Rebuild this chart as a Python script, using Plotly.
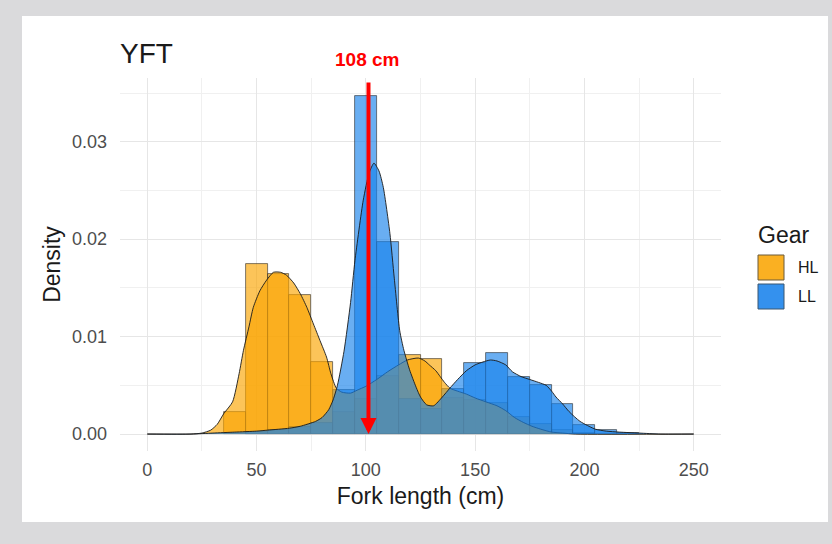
import plotly.graph_objects as go

# ---------------- data ----------------
bin_width = 10
hl_bin_centers = [40, 50, 60, 70, 80, 90, 100, 110, 120, 130, 140, 150, 160, 170, 180, 190, 200]
hl_bin_density = [0.0023, 0.0175, 0.0164, 0.0143, 0.0074, 0.0023, 0.0036, 0.0060, 0.0081, 0.0077,
                  0.0037, 0.0035, 0.0032, 0.0018, 0.0010, 0.0004, 0.0001]

ll_bin_centers = [50, 60, 70, 80, 90, 100, 110, 120, 130, 140, 150, 160, 170, 180, 190, 200, 210, 220]
ll_bin_density = [0.0002, 0.0004, 0.0007, 0.0011, 0.0045, 0.0347, 0.0197, 0.0036, 0.0026, 0.0046,
                  0.0073, 0.0083, 0.0059, 0.0050, 0.0031, 0.0009, 0.0004, 0.0001]

hl_kde_x = [0, 20, 25, 29, 32, 35, 39, 42, 44, 46.5, 48.5, 51.5, 54.6, 57.7, 61, 63.7, 67, 70, 73,
            76, 79, 82, 84, 86.5, 89, 93, 96, 100, 105, 110, 115, 119, 124, 127, 129, 132, 134,
            136, 138.5, 142, 146, 150, 155, 160, 164, 168, 172, 176, 180, 185, 190, 196, 250]
hl_kde_y = [0, 0, 0.0001, 0.0004, 0.0010, 0.0021, 0.0033, 0.0062, 0.0086, 0.0110, 0.0130, 0.0147,
            0.0158, 0.0166, 0.0166, 0.0163, 0.0155, 0.0144, 0.0130, 0.0113, 0.0096, 0.0079, 0.0062,
            0.0047, 0.0043, 0.0042, 0.0045, 0.0049, 0.0056, 0.0064, 0.0071, 0.0076, 0.0078, 0.0075,
            0.0071, 0.0065, 0.0059, 0.0053, 0.0047, 0.0044, 0.0041, 0.0037, 0.0033, 0.0029, 0.0024,
            0.0017, 0.0012, 0.0008, 0.0005, 0.0002, 0.0001, 0, 0]

ll_kde_x = [0, 20, 30, 40, 50, 55, 65, 70, 77, 80, 83, 85, 87, 90, 93, 95, 98.8, 101.5, 103.7, 106,
            108, 111, 113, 115.5, 117.4, 120, 123, 125, 127.8, 131, 135, 138.4, 142, 146, 150, 153.6,
            157, 160, 164, 167, 171, 175, 179, 182.5, 185, 187, 190, 193, 198, 205, 210, 216, 225,
            235, 250]
ll_kde_y = [0, 0, 0.0001, 0.0002, 0.0003, 0.0004, 0.0006, 0.0008, 0.0013, 0.0017, 0.0025, 0.0035,
            0.0050, 0.0085, 0.0135, 0.0178, 0.0240, 0.0268, 0.0278, 0.0270, 0.0253, 0.0206, 0.0160,
            0.0106, 0.0086, 0.0066, 0.0048, 0.0038, 0.0030, 0.0029, 0.0038, 0.0047, 0.0056, 0.0065,
            0.0071, 0.0074, 0.0076, 0.0075, 0.0071, 0.0064, 0.0059, 0.0056, 0.0053, 0.0050, 0.0044,
            0.0038, 0.0031, 0.0023, 0.0013, 0.0005, 0.0003, 0.0002, 0.0001, 0, 0]

gear_names = ["HL", "LL"]
marker_value = 101.2          # position of the red marker line (cm)
marker_label = "108 cm"
x_ticks = [0, 50, 100, 150, 200, 250]
y_ticks = [0.00, 0.01, 0.02, 0.03]
y_tick_text = ["0.00", "0.01", "0.02", "0.03"]

# ---------------- styling ----------------
ORANGE = "rgba(250,165,0,0.65)"
BLUE = "rgba(25,130,235,0.65)"
ORANGE_KEY = "rgb(250,176,34)"
BLUE_KEY = "rgb(52,145,238)"
OUTLINE = "rgba(40,40,40,0.75)"
FONT = "Liberation Sans, Arial, sans-serif"

W, H = 832, 544
L, R, T, B = 120, 111, 78, 93
pw, ph = W - L - R, H - T - B


def px_x(p):
    return (p - L) / pw


def px_y(p):
    return (H - B - p) / ph


fig = go.Figure()

# histograms (HL first, LL on top)
for name, cx, hy, col in [(gear_names[0], hl_bin_centers, hl_bin_density, ORANGE),
                          (gear_names[1], ll_bin_centers, ll_bin_density, BLUE)]:
    fig.add_trace(go.Bar(x=cx, y=hy, width=bin_width, name=name, showlegend=False,
                         marker=dict(color=col, line=dict(color=OUTLINE, width=0.8))))

# density curves
for name, kx, ky, col in [(gear_names[0], hl_kde_x, hl_kde_y, ORANGE),
                          (gear_names[1], ll_kde_x, ll_kde_y, BLUE)]:
    fig.add_trace(go.Scatter(x=kx, y=ky, mode="lines", fill="tozeroy", fillcolor=col,
                             line=dict(color="rgba(25,25,25,0.9)", width=1.0, shape="spline",
                                       smoothing=0.6),
                             name=name, showlegend=False, hoverinfo="skip"))

shapes = [
    # white card behind the chart
    dict(type="rect", xref="paper", yref="paper", layer="below",
         x0=px_x(22), x1=px_x(828), y0=px_y(522), y1=px_y(16),
         fillcolor="white", line=dict(width=0)),
    # legend keys
    dict(type="rect", xref="paper", yref="paper", x0=px_x(758), x1=px_x(784),
         y0=px_y(280), y1=px_y(255), fillcolor=ORANGE_KEY, line=dict(color="#6b5a3a", width=1)),
    dict(type="rect", xref="paper", yref="paper", x0=px_x(758), x1=px_x(784),
         y0=px_y(309), y1=px_y(284), fillcolor=BLUE_KEY, line=dict(color="#3b5670", width=1)),
]

annotations = [
    dict(xref="x", yref="y", axref="x", ayref="y", x=marker_value, y=0,
         ax=marker_value, ay=0.03623, showarrow=True, arrowhead=2, arrowsize=0.8,
         arrowwidth=4, arrowcolor="#FF0000", text=""),
    dict(xref="x", yref="paper", x=100.3, y=px_y(59.5), xanchor="center", yanchor="middle",
         text="<b>" + marker_label + "</b>",
         showarrow=False, font=dict(family=FONT, size=19, color="#FF0000")),
    dict(xref="paper", yref="paper", x=px_x(756), y=px_y(235), xanchor="left", yanchor="middle",
         text="Gear", showarrow=False, font=dict(family=FONT, size=23, color="#1a1a1a")),
    dict(xref="paper", yref="paper", x=px_x(796), y=px_y(267.5), xanchor="left", yanchor="middle",
         text=gear_names[0], showarrow=False, font=dict(family=FONT, size=16, color="#1a1a1a")),
    dict(xref="paper", yref="paper", x=px_x(796), y=px_y(296.5), xanchor="left", yanchor="middle",
         text=gear_names[1], showarrow=False, font=dict(family=FONT, size=16, color="#1a1a1a")),
]

GRID = "#e6e6e6"
fig.update_layout(
    width=W, height=H,
    margin=dict(l=L, r=R, t=T, b=B, autoexpand=False),
    paper_bgcolor="#dadadc", plot_bgcolor="rgba(0,0,0,0)",
    barmode="overlay", bargap=0,
    showlegend=False,
    font=dict(family=FONT),
    title=dict(text="YFT", x=px_x(120), xref="paper", xanchor="left",
               y=1 - 53 / H, yref="container", yanchor="middle",
               font=dict(family=FONT, size=28, color="#1a1a1a")),
    xaxis=dict(range=[-12.5, 262.5], tickvals=x_ticks, showline=False, zeroline=False,
               showgrid=True, gridcolor=GRID, gridwidth=1, ticks="", ticklabelstandoff=6,
               tickfont=dict(family=FONT, size=18, color="#4d4d4d"),
               minor=dict(dtick=25, tick0=25, showgrid=True, gridcolor="#f0f0f0", gridwidth=0.7),
               title=dict(text="Fork length (cm)", font=dict(family=FONT, size=23, color="#1a1a1a"),
                          standoff=8)),
    yaxis=dict(range=[-0.00174, 0.03654], tickvals=y_ticks, ticktext=y_tick_text,
               showline=False, zeroline=False, showgrid=True, gridcolor=GRID, gridwidth=1,
               ticks="", ticklabelstandoff=12, tickfont=dict(family=FONT, size=18, color="#4d4d4d"),
               minor=dict(dtick=0.005, tick0=0.005, showgrid=True, gridcolor="#f0f0f0",
                          gridwidth=0.7),
               title=dict(text="Density", font=dict(family=FONT, size=23, color="#1a1a1a"),
                          standoff=4)),
    shapes=shapes,
    annotations=annotations,
)

fig.write_html("out.html", config={"displayModeBar": False},
               post_script="document.body.style.margin='0';")
